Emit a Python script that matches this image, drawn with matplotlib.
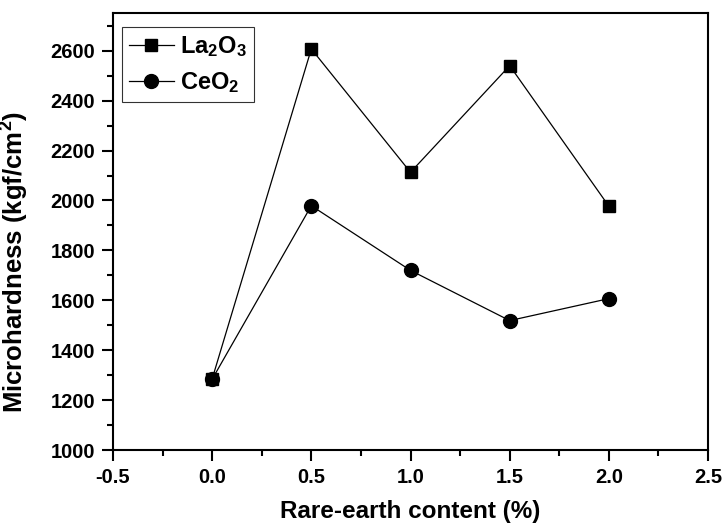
import matplotlib
matplotlib.use("Agg")
import matplotlib.pyplot as plt
from matplotlib.ticker import MultipleLocator, FormatStrFormatter

x = [0.0, 0.5, 1.0, 1.5, 2.0]
la2o3 = [1285, 2607, 2113, 2540, 1977]
ceo2 = [1284, 1979, 1720, 1519, 1607]

plt.rcParams['font.family'] = ['Liberation Sans', 'DejaVu Sans']
plt.rcParams['font.weight'] = 'bold'
plt.rcParams['mathtext.fontset'] = 'custom'
plt.rcParams['mathtext.rm'] = 'Liberation Sans:bold'
plt.rcParams['mathtext.it'] = 'Liberation Sans:bold'
plt.rcParams['mathtext.bf'] = 'Liberation Sans:bold'
plt.rcParams['mathtext.default'] = 'rm'

fig = plt.figure(figsize=(7.24, 5.29), dpi=100)
ax = fig.add_axes([0.156, 0.149, 0.822, 0.826])

ax.plot(x, la2o3, color='black', lw=0.9, marker='s', ms=9, label='La$_2$O$_3$')
ax.plot(x, ceo2, color='black', lw=0.9, marker='o', ms=10, label='CeO$_2$')

ax.set_xlim(-0.5, 2.5)
ax.set_ylim(1000, 2750)
ax.xaxis.set_major_locator(MultipleLocator(0.5))
ax.xaxis.set_minor_locator(MultipleLocator(0.25))
ax.yaxis.set_major_locator(MultipleLocator(200))
ax.yaxis.set_minor_locator(MultipleLocator(100))
ax.xaxis.set_major_formatter(FormatStrFormatter('%.1f'))

ax.tick_params(which='both', direction='out', top=False, right=False, width=1.5, labelsize=14.5, pad=5)
ax.tick_params(which='major', length=8)
ax.tick_params(which='minor', length=4.5)
for s in ax.spines.values():
    s.set_linewidth(1.5)

ax.set_xlabel('Rare-earth content (%)', fontsize=17.5, fontweight='bold', labelpad=9)
ax.set_ylabel('Microhardness (kgf/cm$^2$)', fontsize=18.5, fontweight='bold')
ax.yaxis.set_label_coords(-0.138, 0.43)

leg = ax.legend(loc='upper left', bbox_to_anchor=(9/595, 1-14/437), borderaxespad=0,
                fontsize=17, frameon=True, fancybox=False,
                edgecolor='black', handlelength=1.9,
                handletextpad=0.25, borderpad=0.3, labelspacing=0.45)
leg.get_frame().set_linewidth(0.8)

fig.savefig('out.png', dpi=100)
